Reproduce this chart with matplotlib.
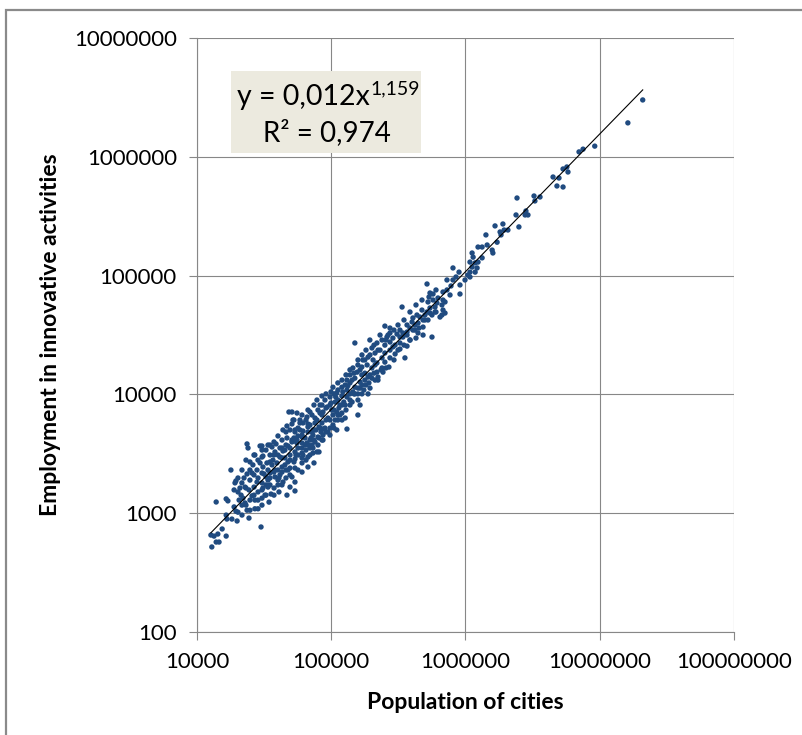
import numpy as np
import matplotlib.pyplot as plt
from matplotlib.patches import Rectangle

# values (population, employment)
population = [
    12900, 13900, 14600, 12700, 13400, 14300, 15400, 16500, 16700, 18200,
    19900, 16500, 13900, 30000, 17900, 23600, 24000, 29500, 33800, 38800,
    31000, 53700, 74400, 73100, 46800, 40800, 23600, 19500, 16500, 17000,
    18900, 19500, 23600, 24400, 27000, 28500, 34400, 35600, 18900, 20200,
    21300, 22000, 22800, 20600, 22800, 24400, 25700, 27000, 26600, 28500,
    30500, 32100, 19200, 21600, 24800, 28000, 30500, 33800, 37500, 40100,
    43700, 49300, 53700, 25700, 28000, 30500, 32700, 35000, 38100, 41500,
    46000, 51000, 26100, 29500, 31000, 33200, 36200, 39400, 43000, 47600,
    53700, 60600, 30500, 35000, 38100, 41500, 45200, 49300, 53700, 60600,
    67100, 36200, 41500, 45200, 49300, 53700, 60600, 67100, 43000, 46800,
    51000, 55600, 60600, 67100, 73100, 81100, 43700, 46800, 51000, 53700,
    58500, 60600, 67100, 73100, 81100, 83900, 58500, 67100, 75700, 81100,
    85300, 86800, 63800, 69500, 75700,
    150000, 194000, 231000, 260000, 274000, 309000, 342000, 367000, 325000, 367000,
    325000, 354000, 274000, 288000, 251000, 219000, 201000, 212000, 231000, 251000,
    274000, 299000, 188000, 205000, 219000, 251000, 269000, 235000, 172000, 158000,
    169000, 185000, 201000, 219000, 201000, 212000, 191000, 145000, 156000, 169000,
    178000, 138000, 150000, 164000, 178000, 188000, 131000, 138000, 150000, 164000,
    175000, 188000, 158000, 145000, 131000, 120000, 112000, 103000, 99600, 110000,
    120000, 131000, 143000, 158000, 127000, 116000, 107000, 97900, 89800, 93000,
    101000, 110000, 120000, 127000, 112000, 131000, 110000, 103000, 94600, 86800,
    82500, 78300, 85300, 67100, 71900, 66000, 78300, 85300, 89800, 94600,
    86800, 79700, 73100, 67100, 61600, 58500, 55600, 51900, 53700, 60600,
    66000, 71900, 78300, 61600, 55600, 51000, 51000, 164000, 223000, 243000,
    1660000, 1900000, 1940000, 1810000, 1720000, 1420000, 1240000, 1330000, 1450000, 1580000,
    1600000, 1120000, 1140000, 1330000, 1240000, 1180000, 1080000, 1120000, 1220000, 1180000,
    1080000, 1040000, 1080000, 807000, 895000, 850000, 807000, 728000, 780000, 728000,
    680000, 910000, 517000, 544000, 573000, 535000, 573000, 624000, 680000, 613000,
    668000, 704000, 593000, 544000, 517000, 474000, 435000, 458000, 499000, 544000,
    563000, 680000, 668000, 646000, 704000, 337000, 406000, 400000, 421000, 443000,
    483000, 367000, 386000, 406000, 451000, 483000, 325000, 342000, 367000, 325000,
    288000, 265000, 251000, 563000, 483000, 443000,
    20900000, 16200000, 9180000, 7510000, 7010000, 5690000, 5330000, 5800000, 4970000, 4490000,
    4800000, 5330000, 3590000, 3240000, 3290000, 2420000, 2820000, 2920000, 2780000, 2380000,
    2500000, 2070000, 1840000,
    48400, 28500, 31600, 33800, 36800, 40100, 43700, 47600, 52800, 56500,
    61600, 69500, 75700, 82500, 91400, 99600, 108000, 122000, 133000, 143000,
    31000, 33800, 38100, 43000, 45200, 49300, 56500, 63800, 70700, 77000,
    91400, 103000, 114000, 124000, 82500, 71900, 54600, 47600, 40800, 35000,
    24800, 22400, 20900, 27000, 30500, 97900, 107000, 116000, 138000, 150000,
    127000, 164000, 178000, 212000, 239000, 299000, 386000, 421000, 499000, 593000,
    767000, 910000, 992000,
    20200, 20200, 21640, 21640, 21640, 23180, 23180, 23180, 24820, 24820,
    24820, 26580, 26580, 26580, 28470, 28470, 30490, 30490, 30490, 32660,
    32660, 32660, 34980, 34980, 34980, 37460, 37460, 37460, 37460, 40120,
    40120, 40120, 42970, 42970, 42970, 46020, 46020, 46020, 49280, 49280,
    49280, 52780, 52780, 52780, 56530, 56530, 56530, 60550, 60550, 60550,
    64850, 64850, 64850, 69450, 69450, 69450, 74380, 74380, 74380, 79680,
    79680, 85330, 85330, 85330, 91380, 91380, 97880, 97880, 97880, 104800,
    104800, 104800, 112200, 112200, 112200, 120300, 120300, 120300, 128800, 128800,
    137900, 137900, 137900, 147700, 147700, 158200, 158200, 158200, 169400, 169400,
    169400, 181500, 181500, 194400, 194400, 194400, 208200, 208200, 223000, 223000,
    238900, 238900, 255800, 255800, 273900, 273900, 293400, 293400, 314300, 314300,
    348300, 348300, 386000, 386000, 427900, 427900, 474300, 525700, 525700, 603000,
    603000,
]
employment = [
    520, 572, 572, 655, 642, 668, 737, 642, 893, 893,
    860, 965, 1243, 766, 2310, 3830, 3540, 3680, 3750, 3830,
    3030, 1540, 2650, 3210, 1420, 1510, 2140, 1870, 1320, 1270,
    1130, 1040, 1060, 910, 1090, 1090, 1240, 1450, 1570, 1510,
    1420, 1340, 1220, 1290, 1660, 1570, 1400, 1290, 1660, 1510,
    1340, 1420, 1800, 1800, 1900, 1830, 1800, 1660, 1630, 1730,
    1830, 1660, 1830, 2180, 2310, 2180, 2020, 2180, 2020, 2100,
    1980, 2020, 2550, 2650, 2450, 2650, 2550, 2650, 2450, 2310,
    2400, 2220, 2970, 3090, 3280, 2970, 2920, 2800, 2860, 2650,
    2450, 3610, 3540, 3400, 3540, 3280, 3210, 2970, 4130, 4300,
    3980, 4130, 3900, 3750, 3540, 3280, 5020, 5420, 5640, 4830,
    5020, 4550, 4830, 4550, 4300, 4830, 5750, 5640, 5750, 5320,
    5110, 4550, 4300, 4130, 3980,
    27100, 28700, 31600, 30400, 32900, 32200, 30400, 33500, 27100, 25500,
    24100, 20300, 27600, 25100, 26000, 27100, 24600, 22300, 23600, 22300,
    23600, 21900, 20600, 19500, 18400, 18700, 17000, 16100, 19500, 17700,
    17000, 17700, 16700, 15400, 13700, 13200, 12500, 16700, 15400, 14600,
    15100, 14600, 13700, 12700, 13200, 14000, 13200, 12500, 11500, 11300,
    10900, 10100, 10100, 10500, 10900, 11500, 12500, 11500, 10500, 10300,
    9700, 9510, 8630, 6710, 8140, 8140, 8630, 9510, 8970, 7830,
    7390, 7110, 6970, 6330, 6090, 5110, 5020, 5530, 6330, 7110,
    8140, 8970, 9700, 7390, 6710, 6450, 6090, 5750, 5210, 4830,
    4130, 4380, 5020, 5320, 5750, 6090, 6970, 6090, 5020, 4380,
    3900, 3750, 3280, 3090, 3900, 4130, 7110, 8140, 14000, 15400,
    262000, 272000, 242000, 233000, 191000, 220000, 174000, 174000, 181000, 164000,
    155000, 155000, 143000, 141000, 130000, 128000, 130000, 118000, 116000, 107000,
    107000, 101000, 97400, 116000, 107000, 97400, 91900, 91900, 81800, 75700,
    72800, 70000, 85000, 71400, 70000, 66100, 62300, 64800, 62300, 58800,
    56600, 60000, 54400, 53400, 49400, 51300, 46600, 44800, 46600, 48400,
    46600, 51300, 46600, 44800, 48400, 54400, 44000, 40700, 38400, 39900,
    42300, 38400, 36200, 34800, 36200, 36900, 34800, 32900, 31600, 30400,
    29800, 31600, 37600, 30400, 31600, 32900,
    3010000, 1930000, 1230000, 1160000, 1100000, 821000, 790000, 745000, 663000, 676000,
    568000, 557000, 459000, 468000, 425000, 450000, 350000, 324000, 324000, 324000,
    257000, 242000, 220000,
    7110, 1980, 2140, 2310, 2800, 3090, 3340, 3680, 4050, 4470,
    4920, 5530, 6330, 6970, 7680, 8470, 9510, 10500, 11800, 13200,
    1630, 1900, 2310, 2220, 2550, 3090, 3540, 3750, 4300, 5020,
    6090, 6710, 7680, 8630, 5210, 4830, 3090, 2700, 1980, 1730,
    2310, 1980, 1630, 3090, 3400, 5210, 6090, 6710, 8970, 10100,
    12000, 16100, 19500, 17700, 20300, 26000, 28700, 34800, 42300, 49400,
    68700, 83400, 91900,
    1980, 1020, 2310, 1170, 965, 2800, 1630, 1170, 2700, 1290,
    1060, 3090, 2100, 1420, 2800, 1290, 3680, 1570, 1170, 3400,
    1730, 1420, 3750, 2700, 1980, 3980, 3090, 2220, 1420, 4470,
    2310, 1900, 3540, 2920, 1730, 4830, 3750, 2310, 5020, 2400,
    2100, 6090, 4300, 2700, 5210, 3090, 2310, 6710, 3540, 2920,
    6090, 3400, 2800, 7110, 3540, 3090, 8140, 5020, 4130, 7390,
    3750, 8140, 6710, 4130, 10100, 4830, 8140, 6090, 4550, 10100,
    7390, 5210, 10900, 8970, 6710, 13200, 8140, 6090, 14600, 7390,
    16100, 10100, 8140, 15100, 10100, 19500, 11300, 8970, 21500, 12000,
    10100, 23600, 12000, 21500, 14600, 11300, 26000, 15100, 23600, 13200,
    28700, 16700, 28700, 16700, 36200, 20300, 34800, 19500, 38400, 23600,
    42300, 26000, 49400, 28700, 56600, 29800, 62300, 60000, 42300, 75700,
    49400,
]

# trend line shown in the chart
coef = 0.012
expo = 1.159
r_squared = 0.974

x_ticks = [1e4, 1e5, 1e6, 1e7, 1e8]
y_ticks = [1e2, 1e3, 1e4, 1e5, 1e6, 1e7]

plt.rcParams['font.family'] = ['Lato', 'DejaVu Sans']

fig = plt.figure(figsize=(8.02, 7.35), dpi=100)
ax = fig.add_axes([0.2456, 0.1401, 0.6696, 0.8082])
ax.set_xscale('log')
ax.set_yscale('log')
ax.set_xlim(x_ticks[0], x_ticks[-1])
ax.set_ylim(y_ticks[0], y_ticks[-1])

grid_c = '#878787'
ax.set_xticks(x_ticks)
ax.set_xticklabels([str(int(v)) for v in x_ticks])
ax.set_yticks(y_ticks)
ax.set_yticklabels([str(int(v)) for v in y_ticks])
ax.minorticks_off()
ax.tick_params(direction='out', length=5.5, width=0.8, color=grid_c,
               labelsize=16, pad=9)
ax.grid(True, color=grid_c, lw=0.8)
ax.set_axisbelow(True)
for s in ['top', 'right']:
    ax.spines[s].set_visible(False)
for s in ['left', 'bottom']:
    ax.spines[s].set_color(grid_c)
    ax.spines[s].set_linewidth(0.8)

ax.scatter(population, employment, s=15, c='#204B80', edgecolors='none', zorder=3)

xl = np.array([min(population), max(population)])
ax.plot(xl, coef * xl ** expo, color='black', lw=0.8, zorder=4)

ax.set_xlabel('Population of cities', fontsize=16.5, fontweight='bold', labelpad=14)
ax.set_ylabel('Employment in innovative activities', fontsize=16.5, fontweight='bold',
              labelpad=9)

# equation box
ax.add_patch(Rectangle((0.0633, 0.8064), 0.354, 0.138, transform=ax.transAxes,
                       facecolor='#ECEADF', edgecolor='none', zorder=5))
t1 = ax.text(0.0745, 0.9010, 'y = 0,012x', transform=ax.transAxes, fontsize=20.5,
             va='center', ha='left', zorder=6)
fig.canvas.draw()
bb = t1.get_window_extent().transformed(ax.transAxes.inverted())
ax.text(bb.x1 + 0.001, bb.y1 + 0.006, '1,159', transform=ax.transAxes,
        fontsize=14, va='top', ha='left', zorder=6)
ax.text(0.1229, 0.840, 'R² = 0,974', transform=ax.transAxes, fontsize=20,
        va='center', ha='left', zorder=6)

# outer chart border
fig.patches.append(Rectangle((0.0075, -0.05), 1.1, 1.0364, transform=fig.transFigure,
                             fill=False, edgecolor='#8a8a8a', lw=1.6))

fig.savefig('out.png', dpi=100)
